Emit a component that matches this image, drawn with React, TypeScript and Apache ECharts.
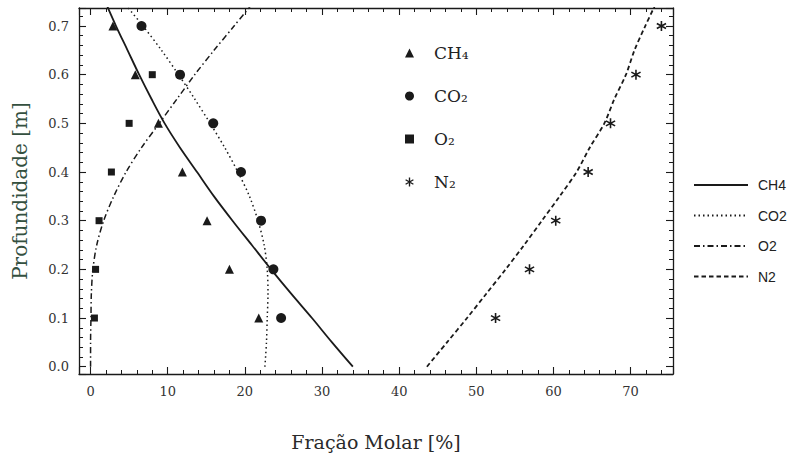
import React, { useEffect, useRef } from "react";
import * as echarts from "echarts";

// Observed data (depth in m, molar fraction in %)
const obsDepth = [0.1, 0.2, 0.3, 0.4, 0.5, 0.6, 0.7];
const ch4Obs = [21.8, 18.0, 15.1, 11.9, 8.8, 5.8, 2.9];
const co2Obs = [24.7, 23.7, 22.1, 19.5, 15.9, 11.6, 6.6];
const o2Depth = [0.1, 0.2, 0.3, 0.4, 0.5, 0.6];
const o2Obs = [0.5, 0.65, 1.1, 2.7, 5.0, 8.0];
const n2Obs = [52.5, 56.9, 60.3, 64.5, 67.4, 70.7, 74.0];

// Model curves
const modelDepth = [0, 0.05, 0.1, 0.15, 0.2, 0.25, 0.3, 0.35, 0.4, 0.45, 0.5, 0.55, 0.6, 0.65, 0.7, 0.75];
const ch4Model = [34.0, 31.3, 28.7, 26.0, 23.4, 20.9, 18.4, 16.0, 13.8, 11.6, 9.6, 7.9, 6.3, 4.8, 3.3, 1.9];
const co2Model = [22.6, 22.8, 22.9, 23.0, 22.9, 22.5, 21.7, 20.6, 19.1, 17.4, 15.5, 13.5, 11.4, 9.2, 6.8, 4.2];
const o2Model = [0.0, 0.0, 0.05, 0.1, 0.3, 0.8, 1.7, 3.0, 4.6, 6.6, 8.9, 11.2, 13.5, 16.0, 18.6, 21.2];
const n2Model = [43.6, 46.2, 48.8, 51.3, 53.8, 56.2, 58.5, 60.8, 63.0, 64.7, 66.6, 67.9, 69.4, 70.5, 71.9, 73.4];

const markerNames = ["CH₄", "CO₂", "O₂", "N₂"];
const lineNames = ["CH4", "CO2", "O2", "N2"];

const STAR =
  "path://M-1.5 -10L1.5 -10L1.5 10L-1.5 10Z M7.91 6.3L-9.41 -3.7L-7.91 -6.3L9.41 3.7Z M-9.41 3.7L7.91 -6.3L9.41 -3.7L-7.91 6.3Z";

const pair = (xs: number[], ys: number[]) => xs.map((x, i) => [x, ys[i]]);

const INK = "#1a1a1a";
const SERIF = "DejaVu Serif";

export default function App() {
  const ref = useRef<HTMLDivElement>(null);
  useEffect(() => {
    if (!ref.current) return;
    const chart = echarts.init(ref.current, null, { renderer: "svg" });
    const xFmt = (v: number) =>
      Math.abs(v / 10 - Math.round(v / 10)) < 1e-6 ? String(Math.round(v)) : "";
    const yFmt = (v: number) =>
      Math.abs(v * 10 - Math.round(v * 10)) < 1e-6 ? (Math.round(v * 10) / 10).toFixed(1) : "";
    const axisCommon = {
      axisLine: { show: true, onZero: false, lineStyle: { color: INK, width: 1.3 } },
      axisTick: { show: true, inside: true, length: 7, lineStyle: { color: INK, width: 1.1 } },
      minorTick: { show: true, splitNumber: 5, length: 4, lineStyle: { color: INK, width: 1 } },
      splitLine: { show: false },
      minorSplitLine: { show: false },
    };
    const xBase = { type: "value", min: -1.5, max: 75.5, splitNumber: 8, ...axisCommon };
    const yBase = { type: "value", min: -0.015, max: 0.737, splitNumber: 7, ...axisCommon };
    const lineSeries = (name: string, data: number[], type: any, width: number) => ({
      type: "line",
      name,
      data: pair(data, modelDepth),
      symbol: "circle",
      showSymbol: false,
      smooth: 0.3,
      clip: true,
      lineStyle: { color: INK, width, type },
      itemStyle: { color: "rgba(0,0,0,0)" },
      emphasis: { disabled: true },
      z: 2,
    });
    const scatter = (name: string, xs: number[], ys: number[], symbol: string, size: number) => ({
      type: "scatter",
      name,
      data: pair(xs, ys),
      symbol,
      symbolSize: size,
      itemStyle: { color: INK, opacity: 1 },
      z: 3,
    });
    chart.setOption({
      animation: false,
      backgroundColor: "#ffffff",
      grid: { left: 79, right: 122, top: 8, bottom: 85, containLabel: false },
      xAxis: [
        {
          ...xBase,
          position: "bottom",
          name: "Fração Molar [%]",
          nameLocation: "middle",
          nameGap: 58,
          nameTextStyle: { fontFamily: SERIF, fontSize: 19, color: "#2a2a2a" },
          axisLabel: { formatter: xFmt, margin: 11, fontFamily: SERIF, fontSize: 13, color: "#333" },
        },
        { ...xBase, position: "top", axisLabel: { show: false } },
      ],
      yAxis: [
        {
          ...yBase,
          position: "left",
          name: "Profundidade [m]",
          nameLocation: "middle",
          nameGap: 49,
          nameRotate: 90,
          nameTextStyle: { fontFamily: SERIF, fontSize: 20, color: "#34503f" },
          axisLabel: { formatter: yFmt, margin: 10, fontFamily: SERIF, fontSize: 13, color: "#333" },
        },
        { ...yBase, position: "right", axisLabel: { show: false } },
      ],
      legend: [
        {
          data: markerNames,
          orient: "vertical",
          left: 405,
          top: 43,
          padding: 0,
          itemWidth: 9,
          itemHeight: 9,
          itemGap: 23,
          symbolKeepAspect: true,
          textStyle: {
            fontFamily: SERIF,
            fontSize: 17,
            color: "#222",
            lineHeight: 20,
            padding: [0, 0, 0, 15],
          },
        },
        {
          data: lineNames,
          orient: "vertical",
          left: 693,
          top: 177,
          padding: 0,
          itemWidth: 54,
          itemHeight: 14,
          itemGap: 14.5,
          textStyle: {
            fontFamily: "Liberation Sans",
            fontSize: 14,
            color: "#222",
            lineHeight: 16,
            padding: [0, 0, 0, 5],
          },
        },
      ],
      series: [
        lineSeries("CH4", ch4Model, "solid", 1.8),
        lineSeries("CO2", co2Model, [1.5, 3], 1.5),
        lineSeries("O2", o2Model, [6, 3, 1.5, 3], 1.5),
        lineSeries("N2", n2Model, [4.5, 3], 1.8),
        scatter("CH₄", ch4Obs, obsDepth, "triangle", 9),
        scatter("CO₂", co2Obs, obsDepth, "circle", 10),
        scatter("O₂", o2Obs, o2Depth, "rect", 7),
        scatter("N₂", n2Obs, obsDepth, STAR, 10),
      ],
    });
    return () => chart.dispose();
  }, []);
  return (
    <div
      ref={ref}
      style={{ position: "fixed", left: 0, top: 0, width: 795, height: 459, background: "#fff" }}
    />
  );
}
